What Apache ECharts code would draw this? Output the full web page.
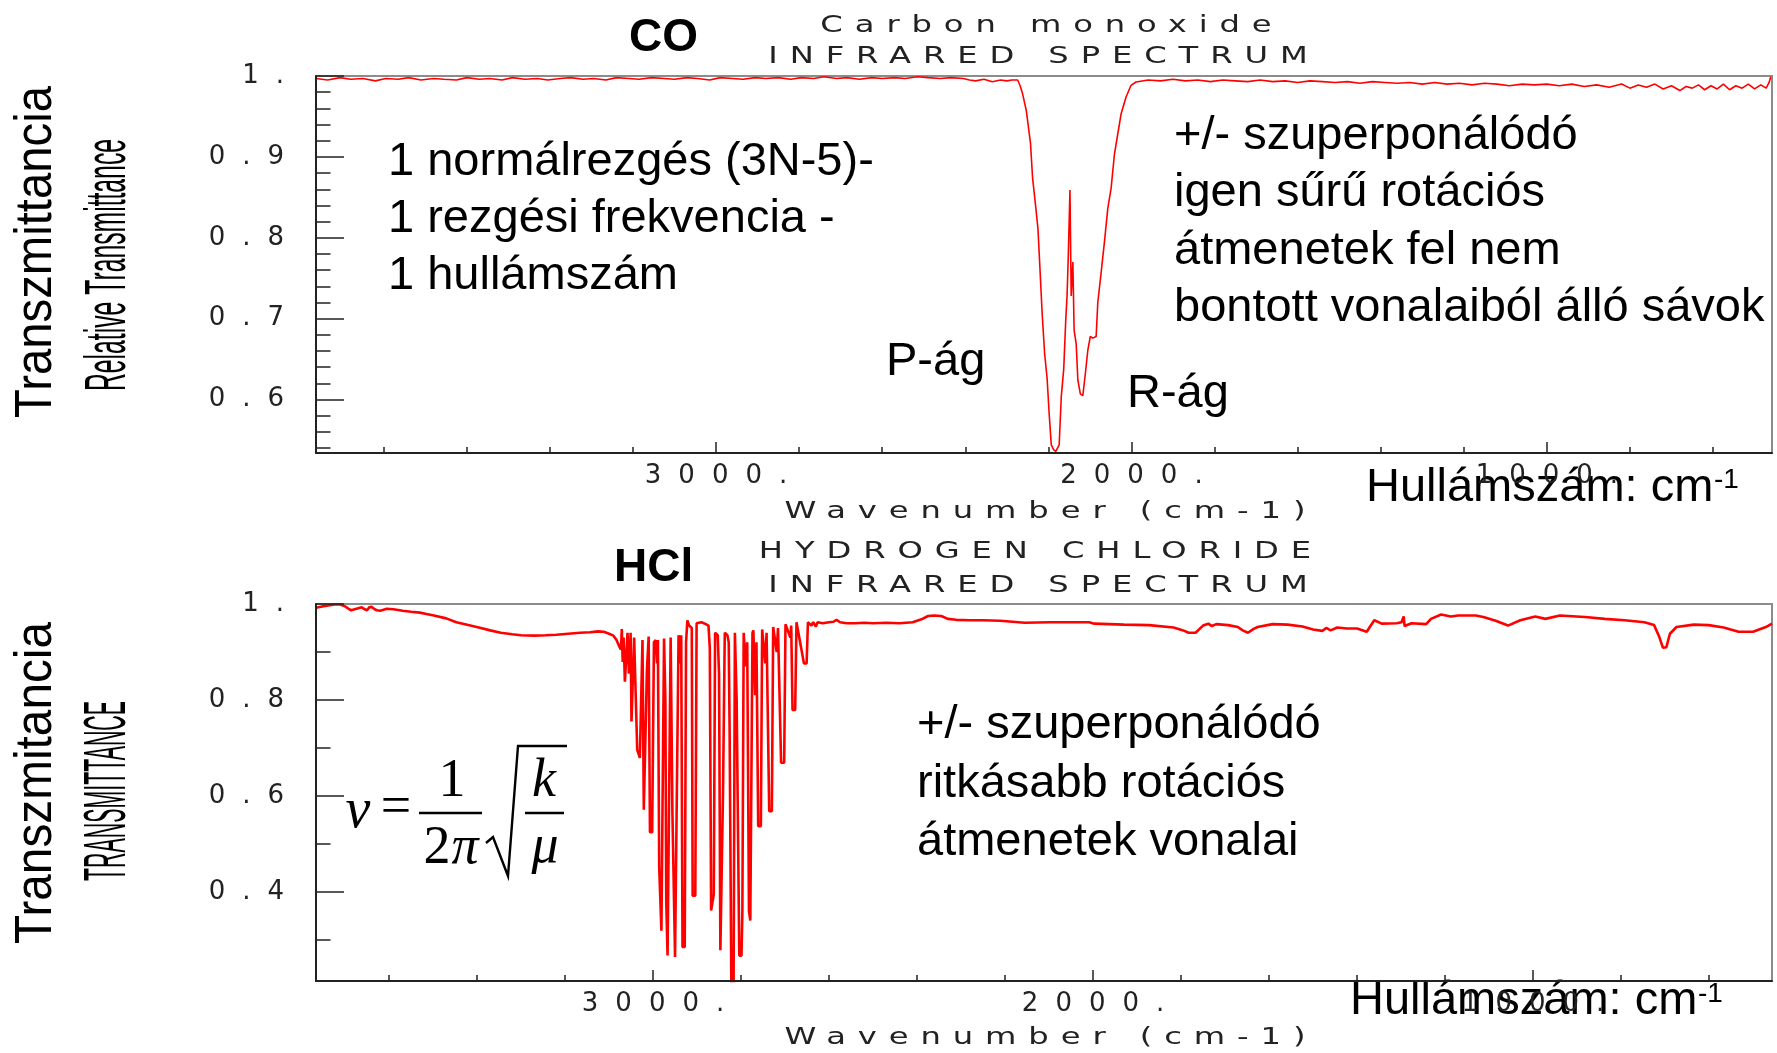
<!DOCTYPE html>
<html><head><meta charset="utf-8">
<script src="https://cdn.jsdelivr.net/npm/echarts@6/dist/echarts.min.js"></script>
<style>html,body{margin:0;padding:0;background:#fff}#c{width:1777px;height:1053px}</style>
</head><body><div id="c"></div>
<script>
// ---------- DATA ----------
// CO spectrum: [wavenumber cm-1, relative transmittance]
const coSpectrum = [
[3963,0.997],[3935,0.995],[3905,0.998],[3880,0.996],[3850,0.997],[3820,0.994],[3795,0.997],[3765,0.996],[3740,0.998],[3710,0.995],
[3680,0.997],[3655,0.996],[3625,0.995],[3600,0.998],[3570,0.996],[3545,0.997],[3515,0.995],[3490,0.998],[3460,0.996],[3430,0.997],
[3405,0.995],[3375,0.997],[3350,0.998],[3320,0.996],[3295,0.997],[3265,0.995],[3240,0.998],[3210,0.997],[3185,0.996],[3155,0.998],
[3125,0.997],[3100,0.996],[3070,0.998],[3045,0.997],[3015,0.995],[2990,0.998],[2960,0.997],[2935,0.996],[2905,0.998],[2880,0.997],
[2850,0.998],[2820,0.996],[2795,0.998],[2765,0.997],[2740,0.999],[2710,0.997],[2685,0.998],[2655,0.996],[2625,0.998],[2600,0.997],
[2570,0.998],[2545,0.997],[2515,0.999],[2490,0.998],[2460,0.997],[2435,0.998],[2405,0.997],[2390,0.995],[2375,0.994],[2355,0.996],
[2335,0.993],[2315,0.995],[2300,0.994],[2288,0.995],
[2274,0.995],[2268,0.988],[2262,0.978],[2253,0.957],[2243,0.917],[2238,0.874],[2231,0.841],[2225,0.811],[2219,0.749],[2215,0.707],
[2209,0.657],[2203,0.626],[2198,0.582],[2193,0.544],[2187,0.538],[2182,0.536],[2179,0.538],[2174,0.544],[2169,0.603],[2163,0.638],
[2158,0.700],[2155,0.728],[2152,0.778],[2149,0.780],[2148,0.859],[2147,0.859],[2145,0.728],[2141,0.770],[2138,0.686],[2133,0.669],
[2129,0.624],[2123,0.607],[2117,0.605],[2111,0.632],[2105,0.661],[2099,0.678],[2093,0.676],[2085,0.678],[2081,0.720],[2073,0.757],
[2065,0.795],[2057,0.836],[2049,0.861],[2041,0.903],[2033,0.928],[2025,0.953],[2013,0.974],[2001,0.9885],[1989,0.9926],
[1960,0.995],[1930,0.994],[1900,0.996],[1870,0.994],[1840,0.995],[1810,0.993],[1780,0.995],[1750,0.994],[1720,0.993],[1690,0.995],
[1660,0.993],[1630,0.994],[1600,0.992],[1570,0.994],[1540,0.993],[1510,0.992],[1480,0.993],[1450,0.991],[1420,0.993],[1390,0.992],
[1360,0.991],[1330,0.992],[1300,0.990],[1270,0.992],[1240,0.990],[1210,0.991],[1180,0.989],[1150,0.991],[1120,0.990],[1090,0.988],
[1060,0.990],[1030,0.989],[1000,0.990],[970,0.988],[940,0.990],[910,0.987],[880,0.989],[850,0.986],[820,0.990],[800,0.985],
[780,0.989],[760,0.986],[740,0.990],[720,0.984],[700,0.988],[680,0.982],[665,0.987],[650,0.985],[635,0.989],[620,0.983],
[605,0.988],[590,0.984],[575,0.990],[560,0.983],[545,0.988],[530,0.985],[515,0.990],[500,0.984],[485,0.989],[472,0.985],
[465,0.992],[461,0.999],[458,0.999]
];

// HCl spectrum: [wavenumber cm-1, transmittance]
const hclSpectrum = [
[3766,0.992],[3752,0.995],[3738,0.997],[3724,0.999],[3711,0.999],[3700,0.995],[3692,0.990],[3686,0.987],[3678,0.989],[3670,0.991],
[3662,0.993],[3655,0.989],[3650,0.987],[3645,0.993],[3640,0.994],[3634,0.990],[3628,0.987],[3620,0.986],[3605,0.990],[3590,0.989],
[3569,0.986],[3550,0.984],[3530,0.982],[3515,0.979],[3498,0.976],[3470,0.970],[3447,0.962],[3420,0.956],[3396,0.951],[3370,0.945],
[3346,0.940],[3320,0.937],[3300,0.935],[3270,0.934],[3244,0.935],[3220,0.936],[3193,0.938],[3166,0.940],[3143,0.941],[3125,0.943],
[3112,0.942],[3100,0.938],[3090,0.934],[3083,0.925],[3077,0.912],[3073,0.905],
[3071,0.948],[3069,0.879],[3067,0.930],[3064,0.838],[3060,0.838],[3058,0.940],[3055,0.855],[3053,0.880],[3051,0.940],
[3049,0.755],[3045,0.755],[3043,0.930],[3040,0.930],[3036,0.696],[3033,0.696],[3030,0.679],[3027,0.679],[3024,0.925],
[3021,0.571],[3017,0.571],[3014,0.860],[3010,0.932],[3007,0.524],[3002,0.524],[2998,0.920],[2994,0.925],[2991,0.876],[2989,0.925],
[2986,0.451],[2983,0.451],[2981,0.319],[2978,0.319],[2975,0.928],[2972,0.800],[2970,0.379],[2967,0.267],[2963,0.267],[2960,0.930],
[2956,0.566],[2953,0.566],[2950,0.264],[2946,0.264],[2942,0.935],[2938,0.876],[2936,0.935],[2933,0.285],[2928,0.285],[2925,0.920],
[2922,0.966],[2918,0.955],[2912,0.950],[2910,0.392],[2904,0.392],[2901,0.960],[2890,0.962],[2880,0.958],[2874,0.955],
[2871,0.908],[2868,0.361],[2864,0.361],[2862,0.395],[2859,0.940],[2853,0.935],[2850,0.853],[2847,0.278],[2843,0.278],[2841,0.607],
[2837,0.940],[2831,0.935],[2828,0.920],[2826,0.738],[2824,0.738],[2822,0.200],[2817,0.200],[2814,0.940],[2810,0.800],[2807,0.800],
[2804,0.267],[2799,0.267],[2797,0.358],[2794,0.940],[2789,0.870],[2786,0.920],[2782,0.360],[2779,0.340],[2776,0.340],[2774,0.940],
[2772,0.945],[2768,0.810],[2765,0.920],[2761,0.537],[2755,0.537],[2752,0.947],[2748,0.950],[2745,0.876],[2742,0.940],[2736,0.568],
[2730,0.568],[2727,0.952],[2724,0.955],[2719,0.900],[2716,0.950],[2709,0.669],[2702,0.669],[2699,0.958],[2696,0.960],[2688,0.930],
[2686,0.955],[2683,0.779],[2677,0.779],[2674,0.962],[2670,0.962],[2657,0.876],[2651,0.876],[2648,0.962],[2640,0.955],[2636,0.962],
[2630,0.953],[2626,0.962],[2615,0.960],[2600,0.962],[2590,0.963],[2583,0.967],[2575,0.962],[2560,0.960],[2540,0.960],[2520,0.961],
[2500,0.960],[2470,0.961],[2440,0.960],[2410,0.962],[2390,0.968],[2375,0.975],[2361,0.976],[2345,0.975],[2330,0.969],[2311,0.967],
[2280,0.966],[2250,0.966],[2211,0.965],[2155,0.961],[2099,0.962],[2009,0.962],[1997,0.959],[1930,0.957],[1873,0.956],[1817,0.951],
[1795,0.945],[1783,0.940],[1767,0.940],[1750,0.955],[1738,0.959],[1730,0.954],[1720,0.958],[1693,0.956],[1671,0.952],[1660,0.945],
[1648,0.940],[1635,0.948],[1626,0.952],[1592,0.958],[1558,0.957],[1524,0.953],[1500,0.947],[1479,0.944],[1470,0.950],[1460,0.945],
[1445,0.951],[1423,0.949],[1400,0.949],[1378,0.942],[1361,0.966],[1344,0.959],[1310,0.960],[1299,0.962],[1294,0.974],[1292,0.954],
[1276,0.960],[1243,0.958],[1232,0.969],[1209,0.978],[1187,0.974],[1170,0.976],[1130,0.976],[1113,0.973],[1085,0.965],[1057,0.955],
[1029,0.966],[995,0.974],[972,0.969],[939,0.976],[882,0.973],[837,0.969],[792,0.966],[747,0.962],[725,0.956],[713,0.931],
[705,0.909],[697,0.910],[689,0.938],[674,0.952],[635,0.957],[601,0.956],[567,0.951],[533,0.942],[500,0.942],[471,0.952],[457,0.959]
];

// Axis ticks and labels
const xMajorTicks = [3000, 2000, 1000];
const xTickLabels = ['3000.', '2000.', '1000.'];
const coXMinorTicks = [3800, 3600, 3400, 3200, 2800, 2600, 2400, 2200, 1800, 1600, 1400, 1200, 800, 600];
const hclXMinorTicks = [3600, 3400, 3200, 2800, 2600, 2400, 2200, 1800, 1600, 1400, 1200, 800, 600];
const coYMajorTicks = [0.6, 0.7, 0.8, 0.9, 1.0];
const coYTickLabels = ['0.6', '0.7', '0.8', '0.9', '1.'];
const coYMinorTicks = [0.54, 0.56, 0.58, 0.62, 0.64, 0.66, 0.68, 0.72, 0.74, 0.76, 0.78, 0.82, 0.84, 0.86, 0.88, 0.92, 0.94, 0.96, 0.98];
const hclYMajorTicks = [0.4, 0.6, 0.8, 1.0];
const hclYTickLabels = ['0.4', '0.6', '0.8', '1.'];
const hclYMinorTicks = [0.3, 0.5, 0.7, 0.9];
const coXRange = [458, 3963];
const coYRange = [0.534, 1.0];
const hclXRange = [457, 3766];
const hclYRange = [0.214, 1.0];

// ---------- CHART ----------
// Instrument-plot lettering is widely spaced: canvas letterSpacing on dedicated layers when available.
const probeCtx = document.createElement('canvas').getContext('2d');
const LS_OK = ('letterSpacing' in probeCtx);
const LABEL_Z = 2, TITLE_Z = 3;
const LABEL_LS = LS_OK ? 17 : 0;     // tick labels
const TITLE_LS = LS_OK ? 8.5 : 0;    // plot titles
const TITLE_SX = 1.4;                // wide plotter glyphs

const chart = echarts.init(document.getElementById('c'), null, {renderer: 'canvas'});
const AX = '#222';
const labelFor = (ticks, labels) => v => {
  for (let i = 0; i < ticks.length; i++) if (Math.abs(ticks[i] - v) < 1e-6) return labels[i];
  return '';
};
function xAxes(g, range, minors) {
  const base = {type: 'value', gridIndex: g, position: 'bottom', inverse: true, min: range[0], max: range[1],
    splitLine: {show: false}, minorTick: {show: false}};
  return [
    Object.assign({}, base, {
      zlevel: LABEL_Z,
      axisLine: {show: true, onZero: false, lineStyle: {color: AX, width: 2}},
      axisTick: {show: true, inside: true, length: 11, customValues: xMajorTicks, lineStyle: {color: AX, width: 1.5}},
      axisLabel: {show: true, customValues: xMajorTicks, formatter: labelFor(xMajorTicks, xTickLabels), margin: 10,
        padding: [0, 0, 0, LABEL_LS], fontFamily: 'DejaVu Sans', fontSize: 26, color: AX}
    }),
    Object.assign({}, base, {
      axisLine: {show: false, onZero: false},
      axisTick: {show: true, inside: true, length: 6, customValues: minors, lineStyle: {color: AX, width: 1.5}},
      axisLabel: {show: false}
    })
  ];
}
function yAxes(g, range, majors, labels, minors) {
  const base = {type: 'value', gridIndex: g, position: 'left', min: range[0], max: range[1],
    splitLine: {show: false}, minorTick: {show: false}};
  return [
    Object.assign({}, base, {
      zlevel: LABEL_Z,
      axisLine: {show: true, onZero: false, lineStyle: {color: AX, width: 2}},
      axisTick: {show: true, inside: true, length: 28, customValues: majors, lineStyle: {color: AX, width: 1.5}},
      axisLabel: {show: true, customValues: majors, formatter: labelFor(majors, labels), margin: 32 - LABEL_LS,
        padding: [7, 0, 0, 0], fontFamily: 'DejaVu Sans', fontSize: 26, color: AX}
    }),
    Object.assign({}, base, {
      axisLine: {show: false, onZero: false},
      axisTick: {show: true, inside: true, length: 14.5, customValues: minors, lineStyle: {color: AX, width: 1.5}},
      axisLabel: {show: false}
    })
  ];
}

// text helpers
const mctx = document.createElement('canvas').getContext('2d');
function textW(t, font) { mctx.font = font; return mctx.measureText(t).width; }
function txt(t, x, y, font, o) {
  o = o || {};
  const el = {type: 'text', x: x, y: y, z: 100,
    style: {text: t, font: font, fill: o.fill || '#000', align: o.align || 'left', verticalAlign: o.va || 'middle',
      textAlign: o.align || 'left', textVerticalAlign: o.va || 'middle'}};
  if (o.lineHeight) el.style.lineHeight = o.lineHeight;
  if (o.rotation) el.rotation = o.rotation;
  if (o.targetW) { el.scaleX = o.targetW / textW(t, font); }
  return el;
}
const PLOT = '23px "DejaVu Sans"';
function plotTxt(t, cx, cy, targetW) {
  const el = txt(t, cx + TITLE_SX * TITLE_LS / 2, cy, PLOT, {align: 'center', fill: '#222', targetW: LS_OK ? null : targetW});
  if (LS_OK) el.scaleX = TITLE_SX;
  el.zlevel = TITLE_Z;
  return el;
}
const ARIAL = '47px "Liberation Sans", Arial, sans-serif';
const SUP = '28px "Liberation Sans", Arial, sans-serif';
const SERIF = '"Liberation Serif", "Times New Roman", serif';
const g = [];
// headings
g.push(txt('CO', 629, 38, 'bold 46px "Liberation Sans", Arial, sans-serif'));
g.push(txt('HCl', 614, 568, 'bold 46px "Liberation Sans", Arial, sans-serif'));
g.push(plotTxt('Carbon monoxide', 1046, 26, 456));
g.push(plotTxt('INFRARED SPECTRUM', 1038, 57, 550));
g.push(plotTxt('HYDROGEN CHLORIDE', 1035, 552, 566));
g.push(plotTxt('INFRARED SPECTRUM', 1038, 586, 550));
g.push(plotTxt('Wavenumber (cm-1)', 1045, 512, 534));
g.push(plotTxt('Wavenumber (cm-1)', 1045, 1038, 534));
// left rotated titles
g.push(txt('Transzmittancia', 36.5, 252, '52px "Liberation Sans", Arial, sans-serif', {align: 'center', rotation: Math.PI / 2, targetW: 332}));
g.push(txt('Relative Transmittance', 109, 265, '58px "Liberation Sans", Arial, sans-serif', {align: 'center', rotation: Math.PI / 2, targetW: 252}));
g.push(txt('Transzmitancia', 36.5, 783, '52px "Liberation Sans", Arial, sans-serif', {align: 'center', rotation: Math.PI / 2, targetW: 322}));
g.push(txt('TRANSMITTANCE', 108, 791, '60px "Liberation Sans", Arial, sans-serif', {align: 'center', rotation: Math.PI / 2, targetW: 180}));
// annotations
g.push(txt('1 normálrezgés (3N-5)-\n1 rezgési frekvencia -\n1 hullámszám', 388, 133.5, ARIAL, {va: 'top', lineHeight: 57}));
g.push(txt('+/- szuperponálódó\nigen sűrű rotációs\nátmenetek fel nem\nbontott vonalaiból álló sávok', 1174, 107, ARIAL, {va: 'top', lineHeight: 57.5}));
g.push(txt('P-ág', 886, 362, ARIAL));
g.push(txt('R-ág', 1127, 394, ARIAL));
g.push(txt('Hullámszám: cm', 1366, 488, ARIAL));
g.push(txt('-1', 1714, 480, SUP));
g.push(txt('+/- szuperponálódó\nritkásabb rotációs\nátmenetek vonalai', 917, 696, ARIAL, {va: 'top', lineHeight: 58.4}));
g.push(txt('Hullámszám: cm', 1350, 1001, ARIAL));
g.push(txt('-1', 1698, 994, SUP));
// formula  nu = 1/(2 pi) sqrt(k/mu)
g.push(txt('ν', 358, 812, 'italic 56px ' + SERIF, {align: 'center'}));
g.push(txt('=', 396, 809, '54px ' + SERIF, {align: 'center'}));
g.push(txt('1', 452, 782, '54px ' + SERIF, {align: 'center'}));
g.push({type: 'line', z: 100, shape: {x1: 419, y1: 813, x2: 482, y2: 813}, style: {stroke: '#000', lineWidth: 2.4}});
g.push(txt('2', 437, 849, '54px ' + SERIF, {align: 'center'}));
g.push(txt('π', 465, 849, 'italic 54px ' + SERIF, {align: 'center'}));
g.push({type: 'polyline', z: 100, shape: {points: [[486, 843], [493, 837], [508, 876], [518, 746], [567, 746]]},
  style: {stroke: '#000', lineWidth: 2.4, fill: null}});
g.push(txt('k', 544, 782, 'italic 54px ' + SERIF, {align: 'center'}));
g.push({type: 'line', z: 100, shape: {x1: 525, y1: 813, x2: 564, y2: 813}, style: {stroke: '#000', lineWidth: 2.4}});
g.push(txt('μ', 545, 848, 'italic 54px ' + SERIF, {align: 'center'}));

const option = {
  animation: false,
  backgroundColor: '#fff',
  grid: [
    {left: 316, top: 76, width: 1456, height: 377, show: true, borderColor: '#8c8c8c', borderWidth: 2, outerBoundsMode: 'none', containLabel: false},
    {left: 316, top: 604, width: 1456, height: 377, show: true, borderColor: '#8c8c8c', borderWidth: 2, outerBoundsMode: 'none', containLabel: false}
  ],
  xAxis: [].concat(xAxes(0, coXRange, coXMinorTicks), xAxes(1, hclXRange, hclXMinorTicks)),
  yAxis: [].concat(yAxes(0, coYRange, coYMajorTicks, coYTickLabels, coYMinorTicks),
                   yAxes(1, hclYRange, hclYMajorTicks, hclYTickLabels, hclYMinorTicks)),
  series: [
    {type: 'line', name: 'CO', xAxisIndex: 0, yAxisIndex: 0, data: coSpectrum, showSymbol: false, symbol: 'none',
      lineStyle: {color: '#ff0000', width: 1.6}, clip: true, z: 5},
    {type: 'line', name: 'HCl', xAxisIndex: 2, yAxisIndex: 2, data: hclSpectrum, showSymbol: false, symbol: 'none',
      lineStyle: {color: '#ff0000', width: 2.6}, clip: true, z: 5}
  ],
  graphic: {elements: g}
};
chart.setOption(option);

if (LS_OK) {
  try {
    const zr = chart.getZr();
    zr.refreshImmediately();
    const painter = zr.painter;
    painter.getLayer(LABEL_Z).ctx.letterSpacing = LABEL_LS + 'px';
    painter.getLayer(TITLE_Z).ctx.letterSpacing = TITLE_LS + 'px';
    painter.refresh(true);
  } catch (e) { console.error(e); }
}
</script>
</body></html>
